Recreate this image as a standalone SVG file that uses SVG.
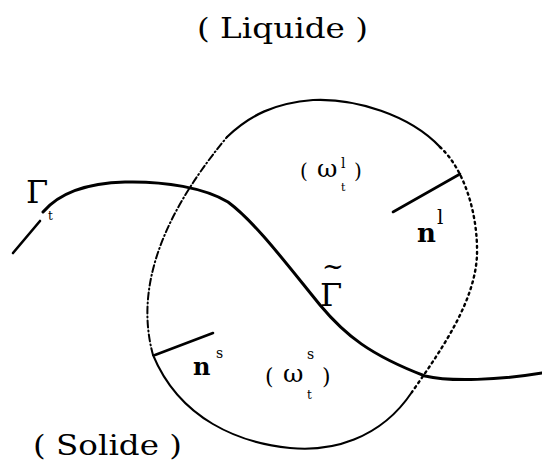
<svg xmlns="http://www.w3.org/2000/svg" width="542" height="469" viewBox="0 0 542 469">
<style>
.lbl{font-family:"DejaVu Serif","Liberation Serif",serif;fill:#000}
.big{font-size:28px}
.sym{font-size:25px}
.sup{font-size:14px}
.crv{fill:none;stroke:#000;stroke-linecap:round}
</style>
<rect width="542" height="469" fill="#fff"/>
<g id="domain">
<path class="crv" stroke-width="2.2" d="M227,137 C250,115 275,103 313,100 C355,98 410,115 440,147"/>
<path class="crv" stroke-width="2.4" stroke-dasharray="2 4" d="M440,147 C465,170 478,215 477,255 C475,300 445,345 412,392"/>
<path class="crv" stroke-width="2" d="M412,392 C380,440 330,452 290,448 C240,443 180,420 153,355"/>
<path class="crv" stroke-width="2" stroke-dasharray="7 3 1 3" d="M153,355 C138,300 150,230 227,137"/>
</g>
<g id="interface">
<path class="crv" stroke-width="2.6" d="M13,253 L40,221"/>
<path class="crv" stroke-width="3" d="M43,212 C60,192 90,183 125,182 C165,181 205,188 228,202 C255,222 285,262 320,305 C345,335 370,355 425,376 C450,382 500,380 542,373"/>
</g>
<g id="normals">
<path class="crv" stroke-width="2.6" d="M393,212 L460,174"/>
<path class="crv" stroke-width="2.6" d="M155,355 L213,333"/>
</g>
<g id="labels">
<text class="lbl big" x="197" y="38" textLength="171" lengthAdjust="spacingAndGlyphs">( Liquide )</text>
<text class="lbl big" x="33" y="455" textLength="149" lengthAdjust="spacingAndGlyphs">( Solide )</text>
<text class="lbl" font-size="32" x="26" y="203">Γ</text>
<text class="lbl" font-size="12" x="48" y="220">t</text>
<text class="lbl" font-size="32" x="320" y="306">Γ<tspan x="322" y="275" font-size="26">~</tspan></text>
<text class="lbl" font-size="26" font-weight="bold" x="417" y="242">n</text>
<text class="lbl" font-size="20" x="437" y="224">l</text>
<text class="lbl" font-size="24" font-weight="bold" x="193" y="375">n</text>
<text class="lbl sup" x="216" y="358">s</text>
<text class="lbl" font-size="20" x="300" y="178">(</text>
<text class="lbl sym" x="317" y="177">ω</text>
<text class="lbl" font-size="14" x="341" y="168">l</text>
<text class="lbl" font-size="11" x="341" y="191">t</text>
<text class="lbl" font-size="20" x="354" y="178">)</text>
<text class="lbl" font-size="22" x="265" y="384">(</text>
<text class="lbl sym" x="283" y="382">ω</text>
<text class="lbl sup" x="307" y="359">s</text>
<text class="lbl" font-size="12" x="307" y="399">t</text>
<text class="lbl" font-size="22" x="322" y="384">)</text>
</g>
</svg>
